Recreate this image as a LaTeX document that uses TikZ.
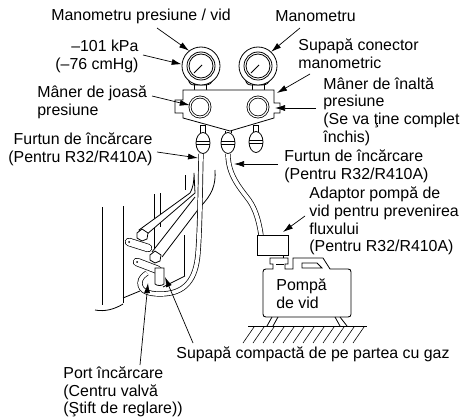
\documentclass[tikz,border=0pt]{standalone}
\usepackage{fontspec}
\setmainfont{Liberation Sans}
\usetikzlibrary{shapes.geometric, arrows.meta, calc}

\begin{document}
\begin{tikzpicture}[
    x=1pt, y=-1pt,
    line width=0.8pt,
    label/.style={inner sep=0pt, anchor=west, align=left, font=\fontsize{15.9}{17.8}\selectfont},
    arrow/.style={-{Latex[length=10pt,width=6pt]},line width=0.7pt},
    gauge/.style={circle, draw=black, fill=white, minimum size=38pt, inner sep=0pt},
    knob/.style={circle, draw=black, double, double distance=1.2pt, fill=white, minimum size=20pt, inner sep=0pt},
    bulb/.style={ellipse, draw=black, fill=white, minimum width=14pt, minimum height=21pt, inner sep=0pt},
    hose/.style={draw=black, double=white, double distance=3.8pt, line width=0.7pt},
    capsule/.style={draw=black, double=white, double distance=7pt, line width=0.7pt, line cap=round}
]
\useasboundingbox (0,0) rectangle (463,417);

% Labels
\node [label] (vaclbl) at (51,16) {Manometru presiune / vid};
\node [label] (manlbl) at (275,16) {Manometru};
\node [label, align=right] (kpalbl) at (55,56) {–101 kPa\\(–76 cmHg)};
\node [label] (conlbl) at (298,53.5) {Supapă conector\\manometric};
\node [label] (lowlbl) at (37,102) {Mâner de joasă\\presiune};
\node [label] (highlbl) at (323,111.5) {Mâner de înaltă\\presiune\\(Se va ţine complet\\închis)};
\node [label, align=right] (hoselbl) at (8,149) {Furtun de încărcare\\(Pentru R32/R410A)};
\node [label] (hosebl) at (284,166) {Furtun de încărcare\\(Pentru R32/R410A)};
\node [label] (adaptlbl) at (309,221) {Adaptor pompă de\\vid pentru prevenirea\\fluxului\\(Pentru R32/R410A)};
\node [label] (pumplbl) at (276,293.5) {Pompă\\de vid};
\node [label] (gaslbl) at (176,354) {Supapă compactă de pe partea cu gaz};
\node [label] (portlbl) at (63,392) {Port încărcare\\(Centru valvă\\(Ştift de reglare))};

% Arrow ends
\coordinate (vacstart) at (157,28);
\coordinate (kpastart) at (143,55);
\coordinate (manstart) at (300,28);
\coordinate (constart) at (310,74);
\coordinate (contip) at (277,93);
\coordinate (lowstart) at (152,96);
\coordinate (highstart) at (316,108);
\coordinate (hightip) at (275,108);
\coordinate (hosestart) at (157,152);
\coordinate (hosetip) at (198,158);
\coordinate (hosebstart) at (278,164);
\coordinate (hosebtip) at (234,164);
\coordinate (adaptstart) at (305,216);
\coordinate (adapttip) at (283,232);
\coordinate (portstart) at (140,365);
\coordinate (porttip) at (148,283);
\coordinate (gasstart) at (193,343);
\coordinate (gastip) at (165,277);

% Manifold
\draw (194,84) rectangle (206,90) (252,84) rectangle (264,90);
\draw [fill=white] (183,90) -- (274,90) -- (274,103) -- (280,103) -- (280,113) -- (274,113) -- (274,118) -- (230,131) -- (183,118) -- (183,113) -- (175,113) -- (175,100) -- (183,100) -- cycle;
\draw (200,125) rectangle (205,133) (253,125) rectangle (258,133) (225,131) -- (225,133) (231,131) -- (231,133);
\draw (188,78) .. controls (189,84) and (191,85) .. (195,85) -- (205,85) .. controls (209,85) and (212,84) .. (213,78);
\draw (245,78) .. controls (246,84) and (248,85) .. (252,85) -- (262,85) .. controls (266,85) and (269,84) .. (270,78);
\node [gauge] (gaugeL) at (201,66) {};
\node [gauge] (gaugeR) at (258,66) {};
\foreach \g in {gaugeL, gaugeR} {
    \draw ($(\g)+(-14,0)$) arc (180:540:14);
    \draw ($(\g)+(-12,0)$) arc (180:540:12);
    \draw ($(\g)+(-7,7)$) -- ($(\g)+(1,-1)$);
}
\node [knob] (knobL) at (200,107) {};
\node [knob] (knobR) at (258,107) {};
\node [bulb] (bulbL) at (203,143) {};
\node [bulb] (bulbM) at (228,143) {};
\node [bulb] (bulbR) at (256,142) {};
\foreach \b in {bulbL, bulbM, bulbR} {
    \draw ($(\b.west)+(0,-2)$) -- ($(\b.east)+(0,-2)$) ($(\b.west)+(0,1)$) -- ($(\b.east)+(0,1)$);
}

% Outdoor unit
\draw (102,207) -- (102,305) (123,206) -- (123,303) (154,194) -- (154,253) (160,193) -- (160,227) (185,175) -- (185,190) (184,235) -- (184,276);
\draw (95,310) .. controls (105,312) and (115,309) .. (123,304);
\draw (123,298) -- (140,291) (163,287) -- (185,276);

% Hoses
\draw [fill=white] (194,173) .. controls (194,182) and (193,188) .. (190,193) -- (139,230) -- (146,235) -- (195,193) -- cycle;
\fill [white] (195,197) -- (152,252) -- (162,257) -- (200,207) -- cycle;
\draw (215,170) .. controls (216,185) and (212,195) .. (200,207) -- (162,257);
\draw (195,197) -- (152,252);
\draw [hose] (201,154) .. controls (200,200) and (200,225) .. (198,253) .. controls (196,280) and (185,294) .. (160,294) .. controls (148,294) and (140,291) .. (140,283) .. controls (140,278) and (144,275) .. (147,273);
\draw [hose] (228,154) .. controls (228,175) and (240,188) .. (249,200) .. controls (256,210) and (259,222) .. (261,235);

% Service ports
\draw [fill=white] (142,229) -- (148,233) -- (147,239) -- (142,241) -- (137,238) -- (137,233) -- cycle;
\draw [capsule] (129,242) -- (148,248);
\fill (129,242) circle (1pt);
\draw [fill=white] (155,251) -- (161,255) -- (160,261) -- (155,263) -- (150,260) -- (150,255) -- cycle;
\draw [capsule] (137,262) -- (158,270);
\fill (137,262) circle (1pt);
\draw [fill=white] (155,268) -- (164,268) -- (164,284) .. controls (162,286) and (157,286) .. (155,284) -- cycle;

% Pump
\node [draw, fill=white, minimum width=31pt, minimum height=20pt, inner sep=0pt] (adapt) at (272.5,245) {};
\draw (283,255) -- (283,258);
\draw (270,258) -- (288,258) -- (288,264) -- (285,264) -- (285,269) -- (293,269) -- (293,258) -- (323,258) -- (330,269) -- (348,269)
    .. controls (350,269) and (351,270) .. (351,272) -- (351,314) .. controls (351,316) and (350,317) .. (348,317) -- (266,317)
    .. controls (264,317) and (263,316) .. (263,314) -- (263,272) .. controls (263,270) and (264,269) .. (266,269) -- (273,269) -- (273,264) -- (270,264) -- cycle;
\draw (276,264) -- (284,264);
\draw (302,263) -- (317,263) -- (322,268) -- (302,268) -- cycle;
\draw (272,317) -- (267,326) (278,317) -- (273,326) (335,317) -- (340,326) (340,317) -- (347,326);
\draw (248,326) -- (367,326);
\foreach \i in {0,...,11}
    \draw [line width=0.6pt] (254+10*\i,327) -- (243+10*\i,343);

% Connections
\draw [arrow] (vacstart) -- (gaugeL.128);
\draw [arrow] (kpastart) -- (gaugeL.175);
\draw [arrow] (manstart) -- (gaugeR.47);
\draw [arrow] (constart) -- (contip);
\draw [arrow] (lowstart) -- (knobL.170);
\draw [arrow] (highstart) -- (hightip);
\draw [arrow] (hosestart) -- (hosetip);
\draw [arrow] (hosebstart) -- (hosebtip);
\draw [arrow] (adaptstart) -- (adapttip);
\draw [arrow] (portstart) -- (porttip);
\draw [arrow] (gasstart) -- (gastip);
\end{tikzpicture}
\end{document}
